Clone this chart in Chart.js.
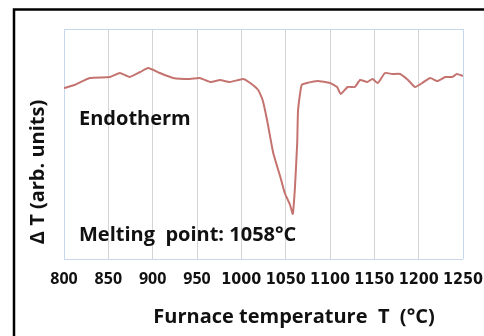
<!DOCTYPE html>
<html>
<head>
<meta charset="utf-8">
<script src="https://cdn.jsdelivr.net/npm/chart.js@4.4.0/dist/chart.umd.min.js"></script>
<style>
  html, body { margin: 0; padding: 0; background: #fff; }
  #wrap { width: 484px; height: 336px; }
</style>
</head>
<body>
<div id="wrap"><canvas id="dta-chart" width="484" height="336"></canvas></div>
<script>
// furnace temperature (°C)
const temps = [800, 812, 829, 852, 863, 874, 886, 895, 908, 923, 942, 953, 965, 976, 987, 1002, 1010, 1019,
  1024, 1029, 1036, 1044, 1049, 1055, 1058, 1060.5, 1063, 1064, 1068, 1074, 1086, 1100, 1108, 1112, 1120,
  1128, 1134, 1142, 1148, 1154, 1162, 1170, 1179, 1188, 1196, 1204, 1213, 1221, 1230, 1238, 1243, 1250]
// delta T, arbitrary units
const deltaT = [171, 174, 181, 182, 186, 182, 187, 191, 186, 181, 180, 181, 177, 179, 177, 180, 176, 169,
  159, 139, 106, 82, 66, 54, 45, 72, 116, 149, 174, 176, 178, 176, 172, 165, 172,
  172, 179, 177, 180, 176, 186, 185, 185, 179, 172, 176, 181, 178, 182, 182, 185, 183]
const xTicks = [800, 850, 900, 950, 1000, 1050, 1100, 1150, 1200, 1250]

const font = "'Open Sans', 'Liberation Sans', sans-serif"
const narrow = "'Liberation Sans Narrow', 'DejaVu Sans Condensed', 'Open Sans', sans-serif"
const edgeBlue = '#c8d8ec'

// black frame, annotations and axis titles
const decor = {
  id: 'decor',
  beforeDraw(chart) {
    const ctx = chart.ctx
    ctx.save()
    ctx.fillStyle = '#fff'
    ctx.fillRect(0, 0, chart.width, chart.height)
    ctx.restore()
  },
  afterDraw(chart) {
    const ctx = chart.ctx
    ctx.save()
    ctx.strokeStyle = '#000'
    ctx.lineWidth = 2.5
    ctx.strokeRect(14, 9.5, 600, 400)

    ctx.fillStyle = '#111'
    ctx.font = 'bold 20px ' + font
    ctx.textBaseline = 'middle'
    ctx.fillText('Endotherm', 79, 119)
    ctx.fillText('Melting  point: 1058°C', 79, 235)

    ctx.textAlign = 'center'
    ctx.fillText('Furnace temperature  T  (°C)', 294, 317)

    ctx.translate(38, 172)
    ctx.rotate(-Math.PI / 2)
    ctx.fillText('Δ T (arb. units)', 0, 0)
    ctx.restore()
  }
}

new Chart(document.getElementById('dta-chart').getContext('2d'), {
  type: 'line',
  data: {
    datasets: [{
      data: temps.map((t, i) => ({ x: t, y: deltaT[i] })),
      borderColor: '#c4736f',
      borderWidth: 2,
      pointRadius: 0,
      tension: 0.15,
      fill: false
    }]
  },
  options: {
    responsive: false,
    animation: false,
    layout: { padding: { left: 0, right: 21, top: 29, bottom: 0 } },
    plugins: { legend: { display: false }, tooltip: { enabled: false } },
    scales: {
      x: {
        type: 'linear',
        min: 800,
        max: 1250,
        afterBuildTicks: (s) => { s.ticks = xTicks.map(v => ({ value: v })) },
        afterFit: (s) => { s.height = 77; s.paddingLeft = 0; s.paddingRight = 0 },
        border: { display: false },
        grid: {
          drawTicks: false,
          color: (c) => (c.index === 0 || c.index === xTicks.length - 1) ? edgeBlue : '#d4d4d4'
        },
        ticks: {
          padding: 11,
          maxRotation: 0,
          autoSkip: false,
          color: '#111',
          callback: (v) => String(v),
          font: (c) => (c.tick && c.tick.value >= 1000)
            ? { family: narrow, size: 16, weight: 'bold' }
            : { family: font, size: 16, weight: 'bold' }
        }
      },
      y: {
        min: 0,
        max: 230,
        afterBuildTicks: (s) => { s.ticks = [{ value: 0 }, { value: 230 }] },
        afterFit: (s) => { s.width = 64 },
        border: { display: false },
        grid: { drawTicks: false, color: edgeBlue },
        ticks: { display: false }
      }
    }
  },
  plugins: [decor]
})
</script>
</body>
</html>
